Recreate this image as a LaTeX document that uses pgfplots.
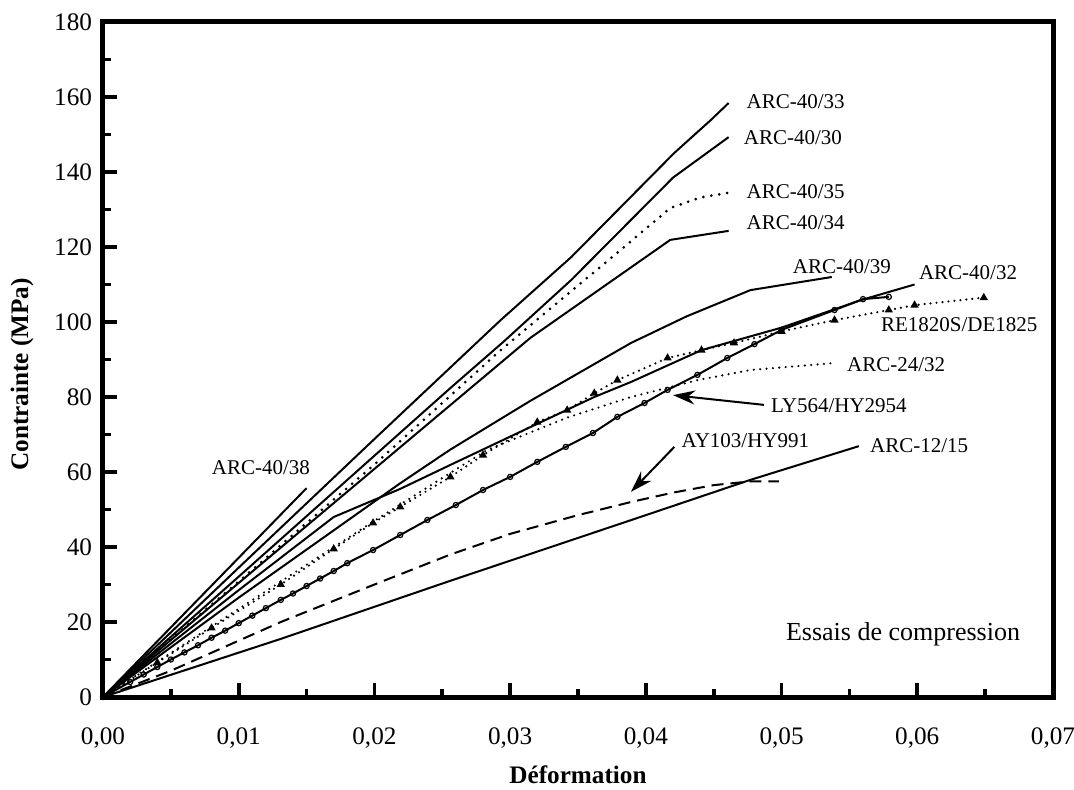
\documentclass[border=0pt]{standalone}
\usepackage{fontspec}
\setmainfont{Liberation Serif}
\usepackage{pgfplots}
\pgfplotsset{compat=1.18}
\usetikzlibrary{arrows.meta}

\begin{document}
\begin{tikzpicture}
\begin{axis}[
  scale only axis, width=475bp, height=337.5bp,
  xmin=0, xmax=0.07, ymin=0, ymax=180,
  xtick={0,0.01,0.02,0.03,0.04,0.05,0.06,0.07},
  xticklabels={{0,00},{0,01},{0,02},{0,03},{0,04},{0,05},{0,06},{0,07}},
  scaled x ticks=false,
  ytick={0,20,40,60,80,100,120,140,160,180},
  minor x tick num=1, minor y tick num=1,
  tick pos=left, tick align=inside,
  major tick length=7bp, minor tick length=4bp,
  every tick/.style={line width=1.8bp, black},
  axis line style={line width=2.5bp},
  /pgf/number format/assume math mode=true,
  tick label style={font=\fontsize{12.6bp}{14bp}\selectfont},
  xticklabel style={yshift=-12bp},
  yticklabel style={xshift=-2bp},
  xlabel={Déformation}, ylabel={Contrainte (MPa)},
  label style={font=\fontsize{12.6bp}{14bp}\selectfont\bfseries},
  xlabel style={at={(axis description cs:0.5,-0.1156)}, anchor=center},
  ylabel style={at={(axis description cs:-0.0853,0.478)}, anchor=center},
  clip=false,
  every axis plot/.append style={line width=1bp, black},
]
% ARC-40/38
\addplot[no marks] coordinates {(0,0) (0.0150,55.7)};
% ARC-40/33
\addplot[no marks] coordinates {(0,0) (0.01,34.5) (0.02,68.8) (0.0293,100.5) (0.0345,117.3) (0.0421,145.1) (0.0448,153.9) (0.0461,158.4)};
% ARC-40/30
\addplot[no marks] coordinates {(0,0) (0.01,32.1) (0.0256,82.4) (0.0295,94.7) (0.0345,111.2) (0.0420,138.5) (0.0461,149.3)};
% ARC-40/35
\addplot[no marks, line width=1.5bp, line cap=round, dash pattern=on 0pt off 4bp] coordinates {(0,0) (0.01,30.8) (0.02,62.0) (0.0293,92.5) (0.0384,120.0) (0.0418,130.4) (0.0440,133.2) (0.0460,134.4)};
% ARC-40/34
\addplot[no marks] coordinates {(0,0) (0.0315,95.8) (0.0418,121.9) (0.0461,124.3)};
% ARC-40/39
\addplot[no marks] coordinates {(0,0) (0.01,26.5) (0.0219,57.0) (0.0256,66.0) (0.0315,79.0) (0.0389,94.4) (0.0430,101.5) (0.0477,108.5) (0.0537,112.0)};
% ARC-40/32
\addplot[no marks] coordinates {(0,0) (0.01,28.5) (0.0170,48.0) (0.0219,55.5) (0.0256,61.9) (0.0315,72.0) (0.0362,80.0) (0.0389,84.0) (0.0441,92.5) (0.0500,98.5) (0.0559,105.9) (0.0598,110.0)};
% RE1820S/DE1825
\addplot[line width=1.2bp, line cap=round, dash pattern=on 0pt off 3bp, mark=triangle*, mark size=1.2bp, mark options={solid}] coordinates {(0.004,9.2) (0.008,18.4) (0.0131,30.0) (0.0170,39.5) (0.0199,46.4) (0.0219,50.7) (0.0256,58.7) (0.0280,64.5) (0.0320,73.3) (0.0342,76.5) (0.0362,81.0) (0.0379,84.5) (0.0416,90.4) (0.0441,92.5) (0.0465,94.4) (0.0500,97.5) (0.0539,100.5) (0.0579,103.2) (0.0598,104.5) (0.0649,106.5)};
\addplot[line width=1.2bp, line cap=round, dash pattern=on 0pt off 3bp, no marks] coordinates {(0,0) (0.004,9.2)};
% ARC-24/32
\addplot[no marks, line width=1.2bp, line cap=round, dash pattern=on 0pt off 3.2bp] coordinates {(0,0) (0.01,23.5) (0.02,47.0) (0.0283,65.9) (0.0342,74.5) (0.0389,80.0) (0.0438,84.5) (0.0477,87.2) (0.0537,89.0)};
% LY564/HY2954
\addplot[mark=o, mark size=1.3bp, mark options={line width=0.6bp}] coordinates {(0,0) (0.002,4.0) (0.003,6.0) (0.004,8.0) (0.005,10.0) (0.006,11.9) (0.007,13.8) (0.008,15.8) (0.009,17.7) (0.010,19.7) (0.011,21.7) (0.012,23.7) (0.0131,25.9) (0.014,27.6) (0.015,29.6) (0.016,31.6) (0.017,33.6) (0.018,35.7) (0.0199,39.2) (0.0219,43.2) (0.0239,47.2) (0.0260,51.2) (0.0280,55.2) (0.0300,58.7) (0.0320,62.7) (0.0341,66.7) (0.0361,70.4) (0.0379,74.7) (0.0399,78.4) (0.0416,81.9) (0.0438,85.9) (0.0460,90.4) (0.0480,94.1) (0.0500,97.9) (0.0539,103.2) (0.0560,106.1) (0.0579,106.7)};
% AY103/HY991
\addplot[no marks, dash pattern=on 6bp off 3.5bp] coordinates {(0,0) (0.005,7.0) (0.0131,20.0) (0.0200,30.0) (0.0256,38.0) (0.0300,43.5) (0.0350,48.5) (0.0389,52.0) (0.0420,54.5) (0.0450,56.5) (0.0477,57.5) (0.0498,57.5)};
% ARC-12/15
\addplot[no marks] coordinates {(0,0) (0.0131,15.5) (0.0256,31.0) (0.0400,48.5) (0.0477,57.9) (0.0557,66.9)};

\coordinate (sw) at (rel axis cs:0,0);
\coordinate (ne) at (rel axis cs:1,1);

\begin{scope}[every node/.style={anchor=west, inner sep=0pt, font=\fontsize{10.5bp}{12bp}\selectfont}]
\node at (axis cs:0.0080,61.3) {ARC-40/38};
\node at (axis cs:0.0474,158.7) {ARC-40/33};
\node at (axis cs:0.0472,149.3) {ARC-40/30};
\node at (axis cs:0.0474,134.9) {ARC-40/35};
\node at (axis cs:0.0474,126.4) {ARC-40/34};
\node at (axis cs:0.0508,114.9) {ARC-40/39};
\node at (axis cs:0.0601,113.3) {ARC-40/32};
\node at (axis cs:0.0573,99.2) {RE1820S/DE1825};
\node at (axis cs:0.0548,88.5) {ARC-24/32};
\node at (axis cs:0.0492,77.6) {LY564/HY2954};
\node at (axis cs:0.0426,68.5) {AY103/HY991};
\node at (axis cs:0.0565,66.9) {ARC-12/15};
\node[font=\fontsize{13bp}{15bp}\selectfont] at (axis cs:0.0503,16.8) {Essais de compression};
\end{scope}
\draw[line width=1bp, -{Stealth[length=11bp, width=7bp]}] (axis cs:0.0487,77.9) -- (axis cs:0.0420,80.5);
\draw[line width=1bp, -{Stealth[length=11bp, width=7bp]}] (axis cs:0.0421,66.7) -- (axis cs:0.0389,54.7);
\end{axis}
\pgfresetboundingbox
\path[use as bounding box] ([shift={(-51.5bp,-46bp)}]sw) rectangle ([shift={(10.5bp,11bp)}]ne);
\end{tikzpicture}
\end{document}
